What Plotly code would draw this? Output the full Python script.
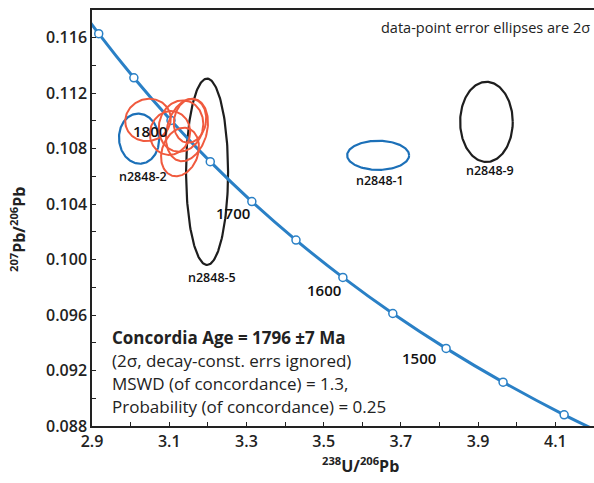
import numpy as np
import plotly.graph_objects as go

# ---- concordia curve (age markers, Ma) ----
ages = [1950, 1900, 1850, 1800, 1750, 1700, 1650, 1600, 1550, 1500, 1450, 1400, 1350]
conc_x = [2.83103, 2.91739, 3.00845, 3.10458, 3.20626, 3.31396, 3.42823,
          3.54968, 3.67899, 3.81700, 3.96453, 4.12266, 4.29256]
conc_y = [0.119583, 0.116293, 0.113112, 0.110037, 0.107062, 0.104186, 0.101406,
          0.098715, 0.096113, 0.093597, 0.091163, 0.088807, 0.086528]

age_labels = ["1800", "1700", "1600", "1500"]
age_label_x = [3.0503, 3.2653, 3.501, 3.7472]
age_label_y = [0.10930, 0.10337, 0.09780, 0.09288]

# ---- error ellipses: centre x, centre y, semi-axis x, semi-axis y, tilt (deg) ----
red_cx = [3.0450, 3.1020, 3.1305, 3.1460, 3.1279, 3.1538]
red_cy = [0.11007, 0.10913, 0.10963, 0.10935, 0.10776, 0.11000]
red_rx = [0.0596, 0.0518, 0.0570, 0.0518, 0.0466, 0.0414]
red_ry = [0.00151, 0.00159, 0.00187, 0.00230, 0.00180, 0.00159]
red_tilt = [20, -15, -15, -15, -20, -10]

outlier_names = ["n2848-2", "n2848-5", "n2848-1", "n2848-9"]
outlier_cx = [3.0218, 3.198, 3.641, 3.9215]
outlier_cy = [0.10872, 0.10633, 0.10752, 0.10993]
outlier_rx = [0.0518, 0.0544, 0.0803, 0.0681]
outlier_ry = [0.00181, 0.00672, 0.00105, 0.00289]
outlier_tilt = [5, 0, 0, 0]
outlier_colors = ["#1c70b8", "#1e1e1e", "#1c70b8", "#1e1e1e"]
outlier_label_x = [3.0321, 3.2109, 3.6461, 3.9311]
outlier_label_y = [0.10597, 0.09874, 0.10568, 0.10640]

X_RANGE = [2.9, 4.2]
Y_RANGE = [0.088, 0.118]
W, H = 594, 483
ML, MR, MT, MB = 92, 0, 10, 57
PW, PH = W - ML - MR, H - MT - MB
px_x = PW / (X_RANGE[1] - X_RANGE[0])
px_y = PH / (Y_RANGE[1] - Y_RANGE[0])


def paper_x(img_px):
    return (img_px - ML) / PW


def paper_y(img_py):
    return (H - MB - img_py) / PH


def ellipse(cx, cy, rx, ry, tilt):
    t = np.linspace(0, 2 * np.pi, 181)
    a, b = rx * px_x, ry * px_y
    th = np.deg2rad(tilt)
    u = a * np.cos(t)
    v = b * np.sin(t)
    du = u * np.cos(th) - v * np.sin(th)
    dv = u * np.sin(th) + v * np.cos(th)
    return cx + du / px_x, cy + dv / px_y


fig = go.Figure()

for cx, cy, rx, ry, tl, col in zip(outlier_cx, outlier_cy, outlier_rx, outlier_ry,
                                  outlier_tilt, outlier_colors):
    ex, ey = ellipse(cx, cy, rx, ry, tl)
    fig.add_trace(go.Scatter(x=ex, y=ey, mode="lines",
                             line=dict(color=col, width=2.2), hoverinfo="skip"))

fig.add_trace(go.Scatter(x=conc_x, y=conc_y, mode="lines+markers",
                         line=dict(color="#2a80c6", width=3, shape="spline"),
                         marker=dict(size=8, color="white",
                                     line=dict(color="#2a80c6", width=1.5)),
                         text=[str(a) for a in ages], hoverinfo="text"))

for cx, cy, rx, ry, tl in zip(red_cx, red_cy, red_rx, red_ry, red_tilt):
    ex, ey = ellipse(cx, cy, rx, ry, tl)
    fig.add_trace(go.Scatter(x=ex, y=ey, mode="lines",
                             line=dict(color="#f05a3e", width=2), hoverinfo="skip"))

FONT = "Open Sans"
TXT = "#222222"

for lab, x, y in zip(age_labels, age_label_x, age_label_y):
    fig.add_annotation(x=x, y=y, text=lab, showarrow=False,
                       font=dict(family=FONT, size=15, color="#111", weight=600))

for lab, x, y in zip(outlier_names, outlier_label_x, outlier_label_y):
    fig.add_annotation(x=x, y=y, text=lab, showarrow=False,
                       font=dict(family=FONT, size=12.5, color="#111", weight=600))

info_lines = ["<b>Concordia Age = 1796 ±7 Ma</b>",
              "(2σ, decay-const. errs ignored)",
              "MSWD (of concordance) = 1.3,",
              "Probability (of concordance) = 0.25"]
info_py = [337, 360, 383, 406]
for line, py in zip(info_lines, info_py):
    fig.add_annotation(xref="paper", yref="paper",
                       x=paper_x(110), y=paper_y(py),
                       xanchor="left", yanchor="middle", text=line, showarrow=False,
                       font=dict(family=FONT, size=17, color=TXT))

fig.add_annotation(xref="paper", yref="paper",
                   x=paper_x(592), y=paper_y(28),
                   xanchor="right", yanchor="middle", showarrow=False,
                   text="data-point error ellipses are 2σ",
                   font=dict(family=FONT, size=14.5, color=TXT))

# axis titles
fig.add_annotation(xref="paper", yref="paper",
                   x=paper_x(360), y=paper_y(465),
                   xanchor="center", yanchor="middle", showarrow=False,
                   text="<b><sup>238</sup>U/<sup>206</sup>Pb</b>",
                   font=dict(family=FONT, size=16, color=TXT))
fig.add_annotation(xref="paper", yref="paper",
                   x=paper_x(18), y=paper_y(230),
                   xanchor="center", yanchor="middle", showarrow=False, textangle=-90,
                   text="<b><sup>207</sup>Pb/<sup>206</sup>Pb</b>",
                   font=dict(family=FONT, size=16, color=TXT))

axis_common = dict(showgrid=False, zeroline=False, showline=True, linecolor="#222",
                   linewidth=1.5, ticks="inside", ticklen=4, tickcolor="#222",
                   automargin=False,
                   tickfont=dict(family=FONT, size=16, color=TXT, weight=600))

fig.update_xaxes(range=X_RANGE, dtick=0.2, tick0=2.9, tickformat=".1f", mirror=True,
                 minor=dict(dtick=0.1, ticks="inside", ticklen=4, tickcolor="#222"),
                 **axis_common)
fig.update_yaxes(range=Y_RANGE, dtick=0.004, tick0=0.088, tickformat=".3f",
                 minor=dict(dtick=0.002, ticks="inside", ticklen=4, tickcolor="#222"),
                 **axis_common)

fig.update_layout(width=W, height=H, showlegend=False,
                  margin=dict(l=ML, r=MR, t=MT, b=MB),
                  plot_bgcolor="white", paper_bgcolor="white")

fig.write_html("out.html", config={"displayModeBar": False},
               post_script="document.body.style.margin='0';"
                           "document.body.style.overflow='hidden';")
